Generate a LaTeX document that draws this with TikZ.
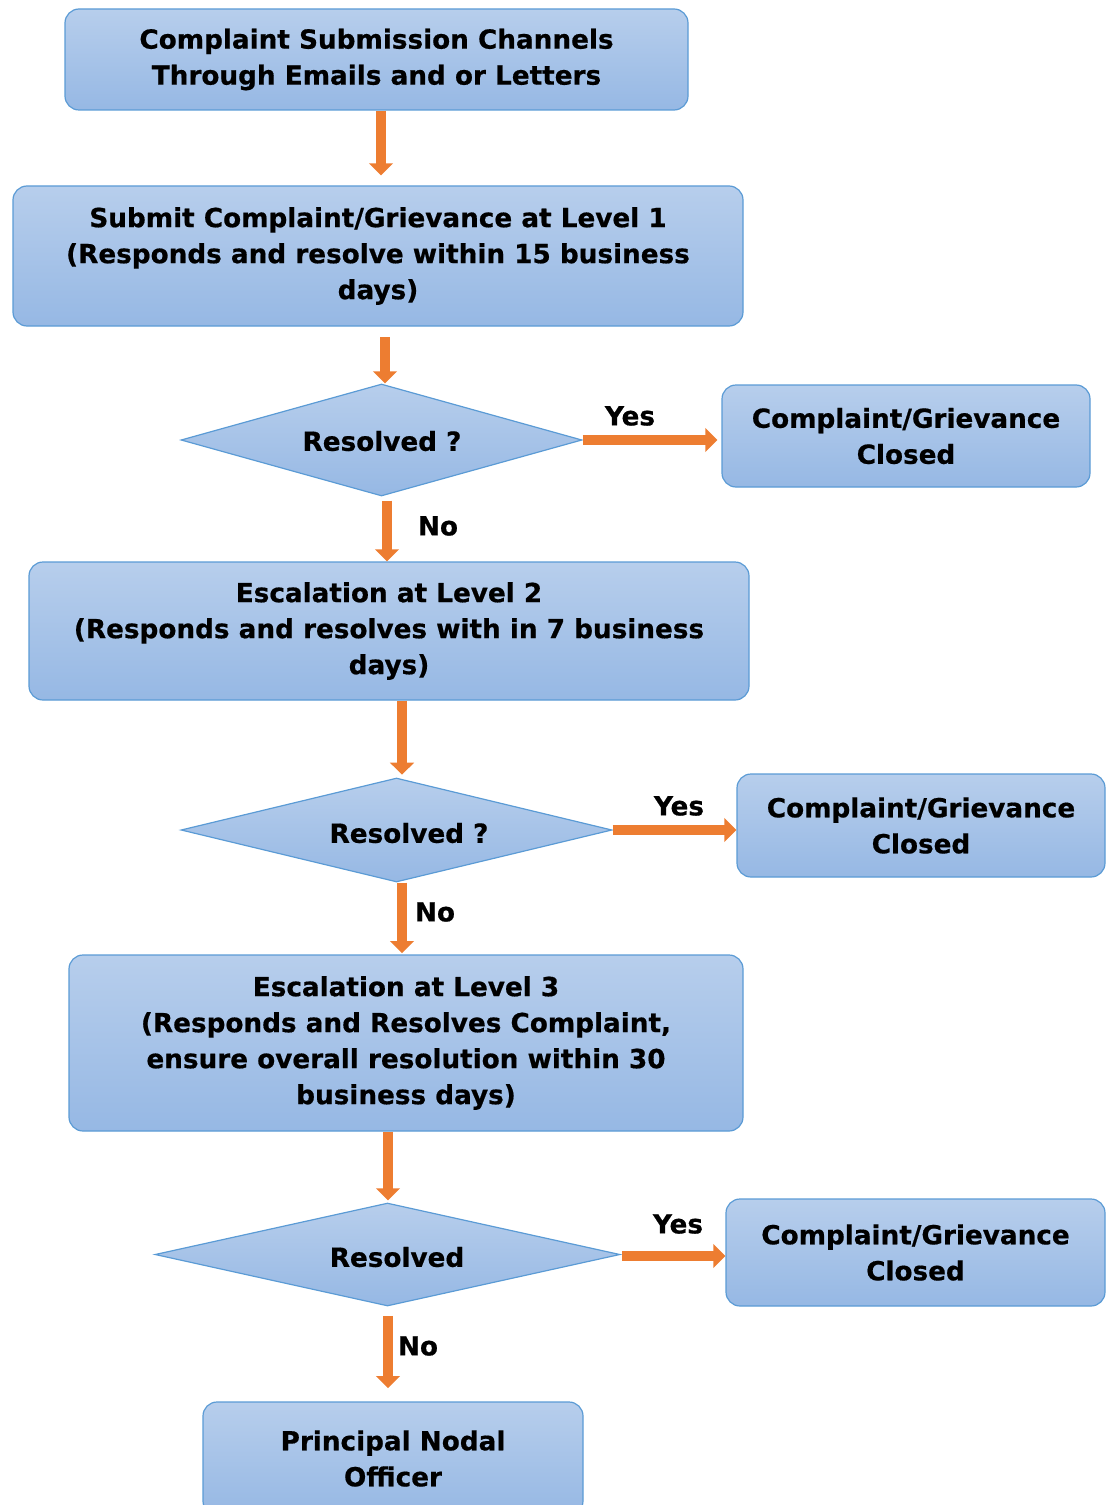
\documentclass[tikz,border=0pt]{standalone}
\usepackage{fontspec}
\setmainfont{DejaVu Sans}[BoldFeatures={FakeBold=0.6}]
\usetikzlibrary{shapes.geometric,arrows.meta}
\newdimen\px \px=0.75pt
\definecolor{bfillA}{RGB}{183,206,236}
\definecolor{bfillB}{RGB}{150,184,228}
\definecolor{bdraw}{RGB}{91,155,213}
\definecolor{orng}{RGB}{237,125,49}
\tikzset{
  txt/.style={font=\fontsize{19.7}{27}\selectfont\bfseries, align=center, inner sep=0pt},
  box/.style={rectangle, rounded corners=10.5pt, draw=bdraw, line width=0.9pt,
    top color=bfillA, bottom color=bfillB, txt},
  dia/.style={diamond, shape aspect=3.6, draw=bdraw, line width=0.9pt,
    top color=bfillA, bottom color=bfillB, inner sep=0pt},
  arr/.style={draw=orng, line width=8pt, -{Triangle[length=9pt,width=17.5pt]}},
  lbl/.style={txt}
}
\begin{document}
\begin{tikzpicture}[x=0.75pt,y=-0.75pt]
\useasboundingbox (0,0) rectangle (1113,1505);
% boxes
\node[box, minimum width=623*\px, minimum height=101*\px] (b1) at (376.5,59.5)
  {Complaint Submission Channels\\Through Emails and or Letters};
\node[box, minimum width=730*\px, minimum height=140*\px] (b2) at (378,256)
  {Submit Complaint/Grievance at Level 1\\(Responds and resolve within 15 business\\days)};
\node[dia, minimum width=401*\px, minimum height=112*\px] (d1) at (381.5,440) {};
\node[txt] (t1) at (382,441) {Resolved ?};
\node[box, minimum width=368*\px, minimum height=102*\px] (c1) at (906,436)
  {Complaint/Grievance\\Closed};
\node[box, minimum width=720*\px, minimum height=138*\px] (b3) at (389,631)
  {Escalation at Level 2\\(Responds and resolves with in 7 business\\days)};
\node[dia, minimum width=431*\px, minimum height=104*\px] (d2) at (396.5,830) {};
\node[txt] (t2) at (409,833) {Resolved ?};
\node[box, minimum width=368*\px, minimum height=103*\px] (c2) at (921,825.5)
  {Complaint/Grievance\\Closed};
\node[box, minimum width=674*\px, minimum height=176*\px] (b4) at (406,1043)
  {Escalation at Level 3\\(Responds and Resolves Complaint,\\ensure overall resolution within 30\\business days)};
\node[dia, minimum width=465*\px, minimum height=103*\px] (d3) at (387.5,1254.5) {};
\node[txt] (t3) at (397,1257) {Resolved};
\node[box, minimum width=379*\px, minimum height=107*\px] (c3) at (915.5,1252.5)
  {Complaint/Grievance\\Closed};
\node[box, minimum width=380*\px, minimum height=113*\px] (b5) at (393,1458.5)
  {Principal Nodal\\Officer};
% connectors
\draw[arr, shorten >=7.5pt] (381,0 |- b1.south) -- (381,0 |- b2.north);
\draw[arr, shorten <=8pt] (385,0 |- b2.south) -- (385,0 |- d1.north);
\draw[arr, shorten >=3pt] (d1.east) -- (d1.east -| c1.west);
\draw[arr, shorten <=3pt] (387,0 |- d1.south) -- (387,0 |- b3.north);
\draw[arr, shorten >=2pt] (402,0 |- b3.south) -- (402,0 |- d2.north);
\draw[arr] (d2.east) -- (d2.east -| c2.west);
\draw[arr, shorten >=1pt] (402,0 |- d2.south) -- (402,0 |- b4.north);
\draw[arr, shorten >=1.5pt] (388,0 |- b4.south) -- (388,0 |- d3.north);
\draw[arr] (622,1256) -- (622,1256 -| c3.west);
\draw[arr, shorten <=7pt, shorten >=10pt] (388,0 |- d3.south) -- (388,0 |- b5.north);
% labels
\node[lbl] (y1) at (630,416) {Yes};
\node[lbl] (y2) at (679,806) {Yes};
\node[lbl] (y3) at (678,1224) {Yes};
\node[lbl] (n1) at (438,526) {No};
\node[lbl] (n2) at (435,912) {No};
\node[lbl] (n3) at (418,1346) {No};
\end{tikzpicture}
\end{document}
